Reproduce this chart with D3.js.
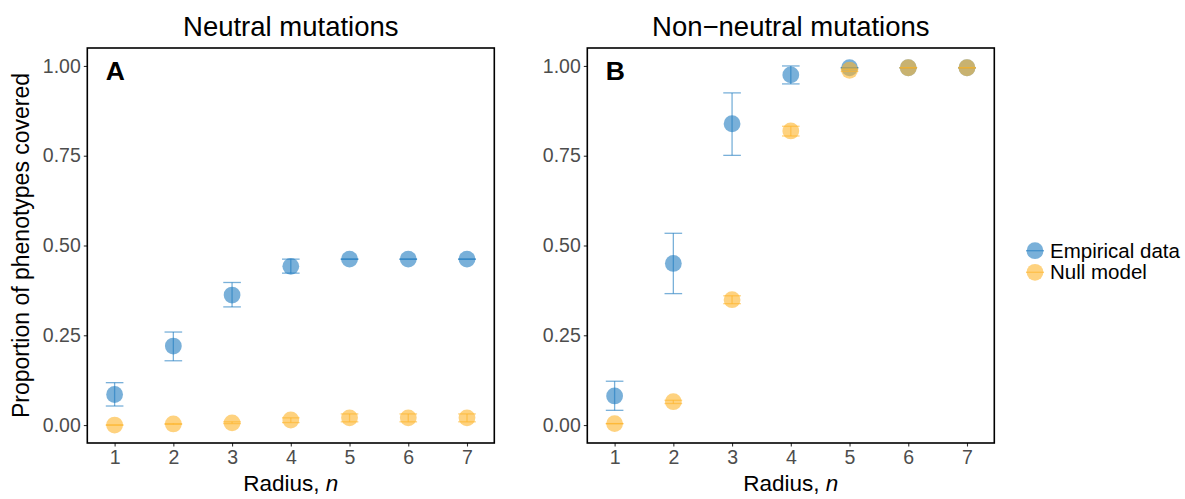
<!DOCTYPE html>
<html>
<head>
<meta charset="utf-8">
<script src="https://cdn.jsdelivr.net/npm/d3@7"></script>
<style>
  html, body { margin: 0; padding: 0; background: #fff; }
  svg { display: block; font-family: "Liberation Sans", Arial, Helvetica, sans-serif; }
</style>
</head>
<body>
<svg id="chart" width="1185" height="499"></svg>
<script>
// Radius values on the x axis
const radius = [1, 2, 3, 4, 5, 6, 7];
const xTicks = [1, 2, 3, 4, 5, 6, 7];
const yTicks = [0, 0.25, 0.5, 0.75, 1];

// Neutral mutations: empirical data (mean, lower, upper)
const neutralEmp   = [0.085, 0.220, 0.362, 0.442, 0.462, 0.462, 0.462];
const neutralEmpLo = [0.053, 0.179, 0.329, 0.423, 0.462, 0.462, 0.462];
const neutralEmpHi = [0.118, 0.259, 0.397, 0.462, 0.462, 0.462, 0.462];
// Neutral mutations: null model
const neutralNull   = [0.000, 0.003, 0.006, 0.014, 0.020, 0.020, 0.020];
const neutralNullLo = [0.000, 0.002, 0.004, 0.007, 0.009, 0.009, 0.009];
const neutralNullHi = [0.000, 0.004, 0.009, 0.020, 0.031, 0.031, 0.031];

// Non-neutral mutations: empirical data
const nonNeutralEmp   = [0.081, 0.450, 0.839, 0.975, 0.995, 0.995, 0.995];
const nonNeutralEmpLo = [0.041, 0.366, 0.751, 0.950, 0.995, 0.995, 0.995];
const nonNeutralEmpHi = [0.122, 0.534, 0.925, 1.000, 0.995, 0.995, 0.995];
// Non-neutral mutations: null model
const nonNeutralNull   = [0.004, 0.065, 0.349, 0.819, 0.988, 0.995, 0.995];
const nonNeutralNullLo = [0.004, 0.060, 0.338, 0.805, 0.985, 0.995, 0.995];
const nonNeutralNullHi = [0.004, 0.069, 0.360, 0.832, 0.991, 0.995, 0.995];

const seriesNames = ["Empirical data", "Null model"];
const seriesColors = ["#1f7bbf", "#fdb42a"];
const panelTitles = ["Neutral mutations", "Non\u2212neutral mutations"];
const panelLetters = ["A", "B"];

const panels = [
  { left: 87.3, series: [
      { mean: neutralEmp, lo: neutralEmpLo, hi: neutralEmpHi },
      { mean: neutralNull, lo: neutralNullLo, hi: neutralNullHi } ] },
  { left: 587.3, series: [
      { mean: nonNeutralEmp, lo: nonNeutralEmpLo, hi: nonNeutralEmpHi },
      { mean: nonNeutralNull, lo: nonNeutralNullLo, hi: nonNeutralNullHi } ] }
];

const svg = d3.select("#chart");
const panelW = 407, panelTop = 48, panelBottom = 443;
const pointR = 8.4, capHalf = 0.15, alpha = 0.6;

const y = d3.scaleLinear().domain([-0.05, 1.05]).range([panelBottom, panelTop]);

panels.forEach((p, pi) => {
  const x = d3.scaleLinear().domain([0.535, 7.465]).range([p.left, p.left + panelW]);
  const g = svg.append("g");

  // Title
  g.append("text")
    .attr("x", p.left + panelW / 2).attr("y", 36)
    .attr("text-anchor", "middle")
    .attr("font-size", 27.5).attr("fill", "#000")
    .text(panelTitles[pi]);

  // Axes
  const yAxis = g.append("g")
    .attr("transform", `translate(${p.left},0)`)
    .call(d3.axisLeft(y).tickValues(yTicks).tickFormat(d3.format(".2f")).tickSize(3.5).tickPadding(3));
  const xAxis = g.append("g")
    .attr("transform", `translate(0,${panelBottom})`)
    .call(d3.axisBottom(x).tickValues(xTicks).tickFormat(d3.format("d")).tickSize(3.5).tickPadding(4));
  [yAxis, xAxis].forEach(a => {
    a.select(".domain").remove();
    a.selectAll(".tick line").attr("stroke", "#333").attr("stroke-width", 1.1);
    a.selectAll(".tick text").attr("fill", "#4d4d4d").attr("font-size", 19.5)
      .attr("font-family", "'Liberation Sans', Arial, Helvetica, sans-serif");
  });

  // Series: points then error bars, null model drawn above empirical
  p.series.forEach((s, si) => {
    const col = seriesColors[si];
    const sg = g.append("g");
    sg.selectAll("circle").data(radius).join("circle")
      .attr("cx", d => x(d))
      .attr("cy", (d, i) => y(s.mean[i]))
      .attr("r", pointR)
      .attr("fill", col).attr("fill-opacity", alpha);
    const eb = sg.selectAll("g.eb").data(radius).join("g").attr("class", "eb")
      .attr("stroke", col).attr("stroke-opacity", alpha).attr("stroke-width", 1.3).attr("fill", "none");
    eb.append("line")
      .attr("x1", d => x(d)).attr("x2", d => x(d))
      .attr("y1", (d, i) => y(s.lo[i])).attr("y2", (d, i) => y(s.hi[i]));
    eb.append("line")
      .attr("x1", d => x(d - capHalf)).attr("x2", d => x(d + capHalf))
      .attr("y1", (d, i) => y(s.lo[i])).attr("y2", (d, i) => y(s.lo[i]));
    eb.append("line")
      .attr("x1", d => x(d - capHalf)).attr("x2", d => x(d + capHalf))
      .attr("y1", (d, i) => y(s.hi[i])).attr("y2", (d, i) => y(s.hi[i]));
  });

  // Panel border
  g.append("rect")
    .attr("x", p.left).attr("y", panelTop)
    .attr("width", panelW).attr("height", panelBottom - panelTop)
    .attr("fill", "none").attr("stroke", "#000").attr("stroke-width", 1.6);

  // Panel letter
  g.append("text")
    .attr("x", p.left + 18.4).attr("y", 80)
    .attr("font-size", 26.5).attr("font-weight", "bold").attr("fill", "#000")
    .text(panelLetters[pi]);

  // X axis title
  const xt = g.append("text")
    .attr("x", p.left + panelW / 2).attr("y", 491)
    .attr("text-anchor", "middle").attr("font-size", 22.5).attr("fill", "#000");
  xt.append("tspan").text("Radius, ");
  xt.append("tspan").attr("font-style", "italic").text("n");
});

// Y axis title
svg.append("text")
  .attr("transform", `translate(29,${(panelTop + panelBottom) / 2}) rotate(-90)`)
  .attr("text-anchor", "middle").attr("font-size", 23).attr("fill", "#000")
  .text("Proportion of phenotypes covered");

// Legend
const legend = svg.append("g");
seriesNames.forEach((name, i) => {
  const cy = 250.7 + i * 21.6;
  const lg = legend.append("g");
  lg.append("circle").attr("cx", 1035).attr("cy", cy).attr("r", pointR)
    .attr("fill", seriesColors[i]).attr("fill-opacity", alpha);
  lg.append("line").attr("x1", 1026).attr("x2", 1044).attr("y1", cy).attr("y2", cy)
    .attr("stroke", seriesColors[i]).attr("stroke-opacity", alpha).attr("stroke-width", 1.3);
  lg.append("text").attr("x", 1050).attr("y", cy + 7)
    .attr("font-size", 20.5).attr("fill", "#000").text(name);
});
</script>
</body>
</html>
